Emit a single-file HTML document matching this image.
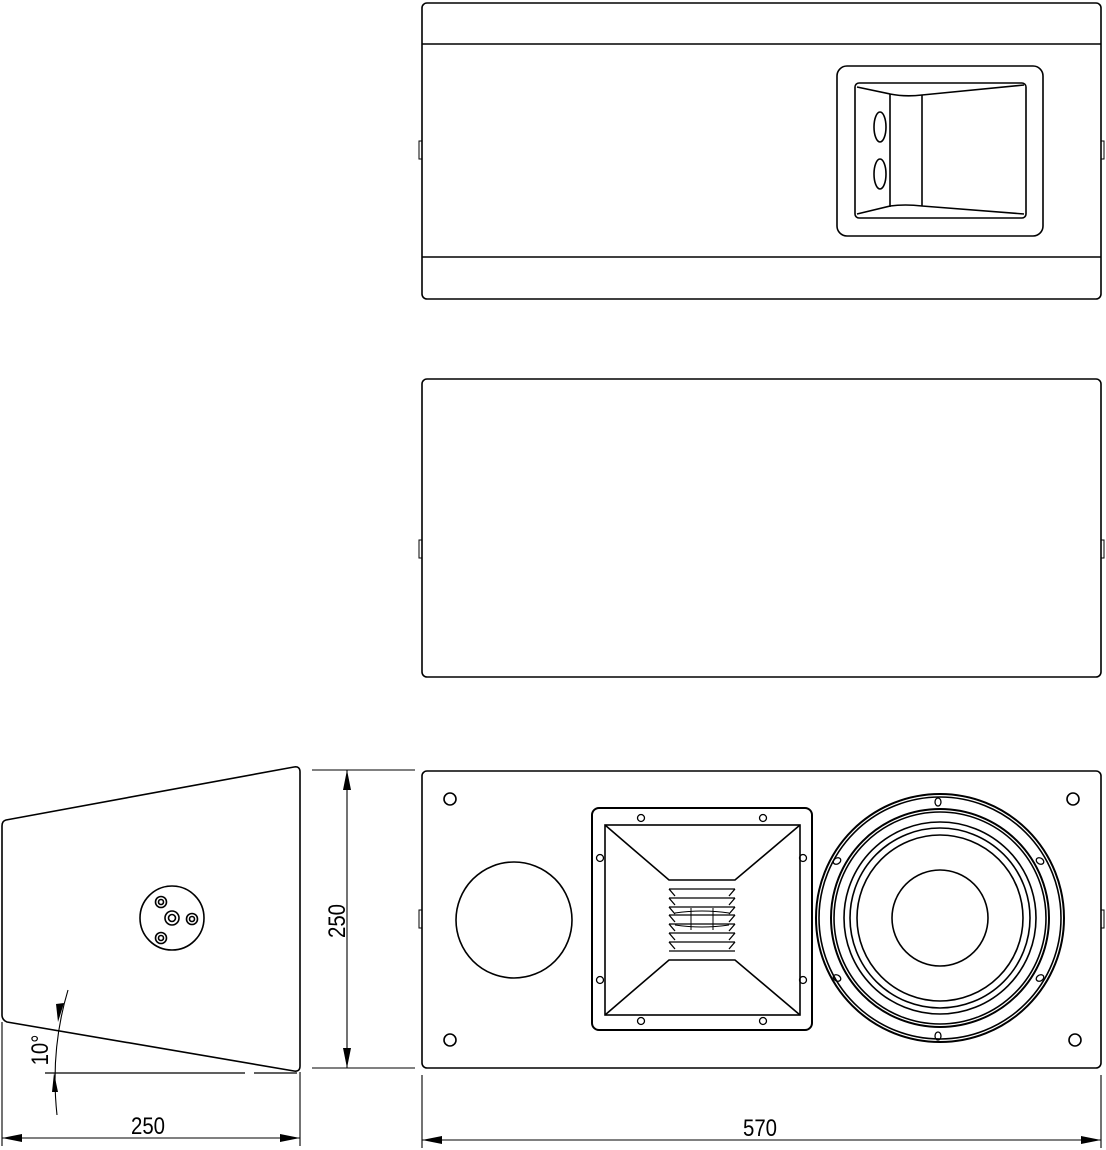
<!DOCTYPE html>
<html><head><meta charset="utf-8"><style>html,body{margin:0;padding:0;background:#fff}svg{display:block}</style></head>
<body>
<svg width="1106" height="1150" viewBox="0 0 1106 1150" xmlns="http://www.w3.org/2000/svg" fill="none" stroke="#000" stroke-width="1.6">
<rect x="422" y="3" width="679" height="296" rx="5"/>
<line x1="422" y1="44" x2="1101" y2="44"/>
<line x1="422" y1="257" x2="1101" y2="257"/>
<rect x="419" y="141" width="3" height="18" stroke-width="1"/>
<rect x="1101" y="141" width="3" height="18" stroke-width="1"/>
<rect x="837" y="66" width="206" height="170" rx="10"/>
<rect x="855" y="83" width="171" height="135" rx="4"/>
<path d="M857 87 L890 94 Q905 97 922 95 L1024 85"/>
<path d="M857 214 L890 206 Q905 204 922 206 L1024 214"/>
<line x1="890" y1="94" x2="890" y2="207"/>
<line x1="922" y1="95" x2="922" y2="206"/>
<ellipse cx="880" cy="127" rx="6" ry="15"/>
<ellipse cx="880" cy="174" rx="6" ry="15"/>
<rect x="422" y="379" width="679" height="298" rx="5"/>
<rect x="419" y="540" width="3" height="18" stroke-width="1"/>
<rect x="1101" y="540" width="3" height="18" stroke-width="1"/>
<path d="M6 820 L294 767 Q300 766 300 772 L300 1066 Q300 1072 294 1071 L7 1022 Q2 1020 2 1015 L2 826 Q2 821 6 820 Z"/>
<circle cx="172" cy="918" r="32"/>
<circle cx="172" cy="918" r="7"/><circle cx="172" cy="918" r="3.5"/>
<circle cx="161" cy="902" r="5.5"/><circle cx="161" cy="902" r="2.5"/>
<circle cx="192" cy="919" r="5.5"/><circle cx="192" cy="919" r="2.5"/>
<circle cx="161" cy="938" r="5.5"/><circle cx="161" cy="938" r="2.5"/>
<line x1="45" y1="1073" x2="245" y2="1073" stroke-width="1.2"/>
<line x1="254" y1="1073" x2="297" y2="1073" stroke-width="1.2"/>
<path d="M68 990 Q50 1050 57 1115" stroke-width="1.1"/>
<polygon points="58,1022 64,1003 56,1004" fill="#000" stroke="none"/>
<polygon points="54,1073 52,1092 58,1092" fill="#000" stroke="none"/>
<line x1="2" y1="1022" x2="2" y2="1146" stroke-width="1.1"/>
<line x1="300" y1="1072" x2="300" y2="1146" stroke-width="1.1"/>
<line x1="2" y1="1138" x2="300" y2="1138" stroke-width="1.1"/>
<polygon points="2,1138 22,1134 22,1142" fill="#000" stroke="none"/>
<polygon points="300,1138 280,1134 280,1142" fill="#000" stroke="none"/>
<line x1="312" y1="770" x2="415" y2="770" stroke-width="1.1"/>
<line x1="312" y1="1068" x2="415" y2="1068" stroke-width="1.1"/>
<line x1="347" y1="770" x2="347" y2="1068" stroke-width="1.1"/>
<polygon points="347,770 343,790 351,790" fill="#000" stroke="none"/>
<polygon points="347,1068 343,1048 351,1048" fill="#000" stroke="none"/>
<rect x="422" y="771" width="679" height="297" rx="5"/>
<rect x="419" y="910" width="3" height="18" stroke-width="1"/>
<rect x="1101" y="910" width="3" height="18" stroke-width="1"/>
<circle cx="450" cy="799" r="6"/><circle cx="1073" cy="799" r="6"/>
<circle cx="450" cy="1040" r="6"/><circle cx="1075" cy="1040" r="6"/>
<circle cx="514" cy="920" r="58"/>
<rect x="592" y="808" width="220" height="222" rx="7" stroke-width="2"/>
<rect x="605" y="825" width="195" height="190"/>
<path d="M605 825 L669 880 L735 880 L800 825 M605 1015 L669 960 L735 960 L800 1015"/>
<g stroke-width="1.3">
<path d="M669 889 H735 M669 889 L675 896 M735 889 L729 896 M669 898 H735 M669 898 L675 905 M735 898 L729 905 M669 907 H735 M669 907 L675 914 M735 907 L729 914 M669 915 H735 M669 915 L675 922 M735 915 L729 922 M669 924 H735 M669 924 L675 931 M735 924 L729 931 M669 933 H735 M669 933 L675 940 M735 933 L729 940 M669 942 H735 M669 942 L675 949 M735 942 L729 949 M669 951 H735"/>
<path d="M691 908 V930 M713 908 V930 M675 913 Q702 909 729 913 M675 925 Q702 929 729 925" stroke-width="1"/>
</g>
<g stroke-width="1.3">
<circle cx="641" cy="818" r="3.5"/><circle cx="763" cy="818" r="3.5"/>
<circle cx="600" cy="858" r="3.5"/><circle cx="803" cy="858" r="3.5"/>
<circle cx="600" cy="980" r="3.5"/><circle cx="803" cy="980" r="3.5"/>
<circle cx="641" cy="1021" r="3.5"/><circle cx="763" cy="1021" r="3.5"/>
</g>
<circle cx="940" cy="918" r="124" stroke-width="2"/>
<circle cx="940" cy="918" r="121"/>
<circle cx="940" cy="918" r="109" stroke-width="2"/>
<circle cx="940" cy="918" r="106"/>
<circle cx="940" cy="918" r="96"/>
<circle cx="940" cy="918" r="90"/>
<circle cx="940" cy="918" r="83"/>
<circle cx="940" cy="918" r="48"/>
<g stroke-width="1.3">
<ellipse cx="938" cy="802" rx="3" ry="4"/><ellipse cx="938" cy="1036" rx="3" ry="4"/>
<ellipse cx="837" cy="861" rx="3" ry="4" transform="rotate(60 837 861)"/>
<ellipse cx="1040" cy="861" rx="3" ry="4" transform="rotate(-60 1040 861)"/>
<ellipse cx="837" cy="978" rx="3" ry="4" transform="rotate(-60 837 978)"/>
<ellipse cx="1040" cy="978" rx="3" ry="4" transform="rotate(60 1040 978)"/>
</g>
<line x1="422" y1="1075" x2="422" y2="1148" stroke-width="1.1"/>
<line x1="1101" y1="1075" x2="1101" y2="1148" stroke-width="1.1"/>
<line x1="422" y1="1140" x2="1101" y2="1140" stroke-width="1.1"/>
<polygon points="422,1140 442,1136 442,1144" fill="#000" stroke="none"/>
<polygon points="1101,1140 1081,1136 1081,1144" fill="#000" stroke="none"/>
<g fill="#000" stroke="none" font-family="Liberation Sans, sans-serif" font-size="24">
<text transform="translate(148 1134) scale(0.85 1)" text-anchor="middle">250</text>
<text transform="translate(760 1136) scale(0.85 1)" text-anchor="middle">570</text>
<text transform="translate(345 921) rotate(-90) scale(0.85 1)" text-anchor="middle">250</text>
<text transform="translate(48 1050) rotate(-90) scale(0.85 1)" text-anchor="middle">10°</text>
</g>
</svg>
</body></html>
